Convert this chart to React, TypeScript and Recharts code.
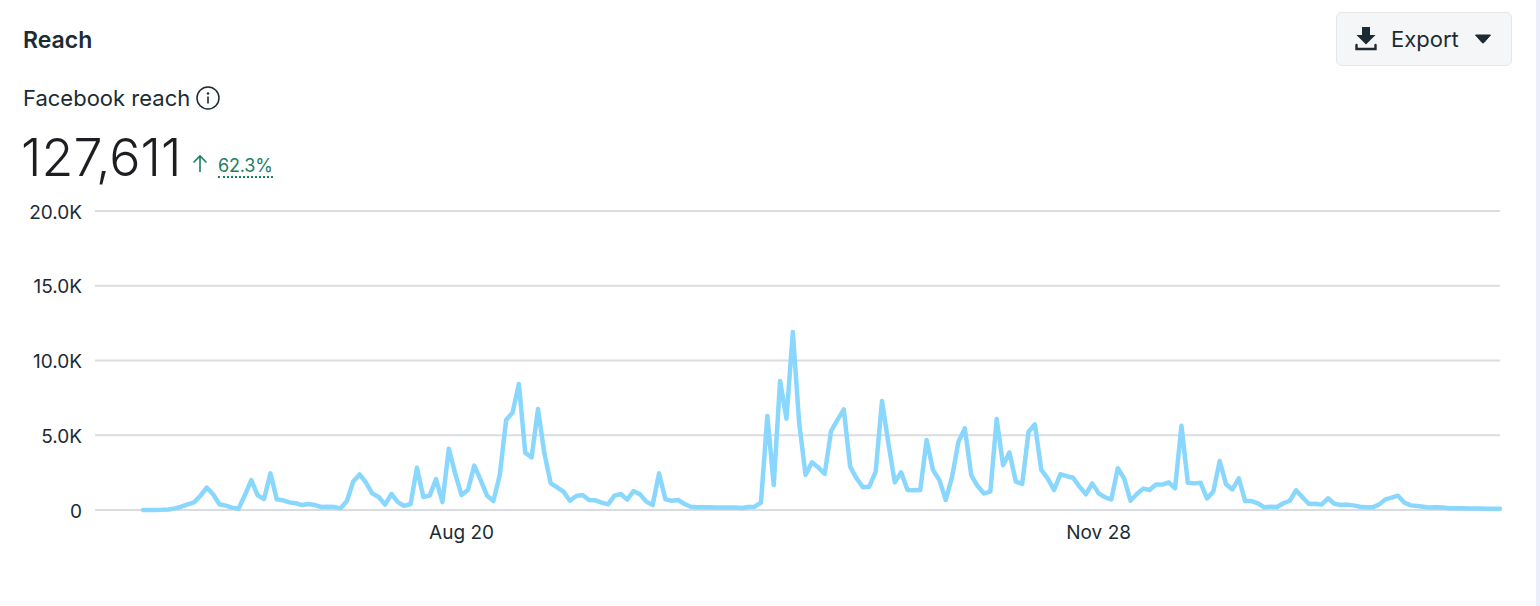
import { LineChart, Line, XAxis, YAxis, CartesianGrid } from 'recharts';

const FONT = 'Inter, "Noto Sans", sans-serif';

// daily reach, starting Jul 1
const reach = [
  0, 0, 0, 10, 30, 110, 220, 380, 510, 940, 1500, 1050, 380, 290, 160, 90, 1000, 2000, 980, 740,
  2450, 710, 650, 510, 450, 330, 400, 330, 200, 220, 200, 110, 600, 1900, 2380, 1830, 1100, 870, 360, 1070,
  530, 270, 400, 2830, 870, 960, 2070, 530, 4100, 2450, 1000, 1340, 2970, 2000, 960, 600, 2340, 6020, 6500, 8430,
  3840, 3520, 6760, 3790, 1780, 1520, 1230, 620, 940, 1000, 670, 650, 490, 380, 960, 1070, 690, 1270, 1050, 560,
  330, 2450, 710, 620, 670, 400, 220, 180, 180, 180, 160, 160, 160, 160, 130, 200, 220, 490, 6290, 1670,
  8630, 6110, 11900, 5800, 2340, 3190, 2850, 2410, 5280, 6020, 6730, 2900, 2120, 1520, 1560, 2560, 7290, 4460, 1850, 2520,
  1340, 1320, 1340, 4680, 2680, 2010, 670, 2230, 4570, 5460, 2340, 1600, 1110, 1230, 6090, 2990, 3840, 1900, 1740, 5240,
  5730, 2680, 2120, 1340, 2390, 2270, 2160, 1560, 1050, 1780, 1110, 850, 710, 2790, 2120, 620, 1070, 1430, 1340, 1700,
  1700, 1850, 1450, 5640, 1830, 1780, 1830, 780, 1230, 3280, 1720, 1380, 2120, 600, 600, 450, 180, 220, 200, 450,
  620, 1320, 850, 400, 420, 360, 780, 420, 330, 360, 310, 220, 180, 180, 360, 710, 830, 960, 490, 310,
  270, 220, 160, 180, 160, 110, 110, 110, 100, 100, 100, 90, 90, 80,
];

const yTicks = [0, 5000, 10000, 15000, 20000];
const xTicks = ['Aug 20', 'Nov 28'];

// calendar labels for the daily points
const days = reach.map((_, i) => {
  const d = new Date(2023, 6, 1 + i);
  return d.toLocaleDateString('en-US', { month: 'short', day: 'numeric' });
});

const chartData = days.map((day, i) => ({ day, reach: reach[i] }));

const formatTick = (value: number) => (value === 0 ? '0' : `${(value / 1000).toFixed(1)}K`);

const abs = (left: number, top: number): React.CSSProperties => ({
  position: 'absolute',
  left,
  top,
  whiteSpace: 'nowrap',
  lineHeight: 1,
});

export default function App() {
  return (
    <div style={{ position: 'absolute', left: 0, top: 0, width: 1540, height: 606, background: '#fff', overflow: 'hidden', fontFamily: FONT }}>
      <div style={{ position: 'absolute', left: 0, top: 601, width: 1540, height: 5, background: '#fcfcfe' }} />
      <div style={{ position: 'absolute', right: 0, top: 0, width: 4, height: 606, background: '#eceefa' }} />

      <div style={{ ...abs(23, 29), fontSize: 23, fontWeight: 600, color: '#1c2b33' }}>Reach</div>

      <div style={{ ...abs(23, 87), fontSize: 22, color: '#1c2b33' }}>Facebook reach</div>
      <svg style={{ position: 'absolute', left: 196, top: 86 }} width="24" height="24" viewBox="0 0 24 24">
        <circle cx="12" cy="12" r="11" fill="none" stroke="#1c2b33" strokeWidth="1.5" />
        <circle cx="12" cy="7.5" r="1.2" fill="#1c2b33" />
        <rect x="11.2" y="10.5" width="1.6" height="7" fill="#1c2b33" />
      </svg>

      <div style={{ ...abs(21, 132), fontSize: 52, fontWeight: 300, color: '#1c1e21' }}>127,611</div>
      <svg style={{ position: 'absolute', left: 191, top: 154 }} width="18" height="20" viewBox="0 0 18 20">
        <path d="M9 18 V2 M2.5 8.5 L9 2 L15.5 8.5" fill="none" stroke="#1a8064" strokeWidth="1.6" />
      </svg>
      <div style={{ ...abs(218, 157), fontSize: 18, letterSpacing: -0.2, color: '#1a8064', borderBottom: '2px dotted #1a8064', paddingBottom: 1 }}>62.3%</div>

      <div style={{ position: 'absolute', left: 1336, top: 12, width: 176, height: 54, boxSizing: 'border-box', background: '#f5f6f7', border: '1px solid #e4e6e8', borderRadius: 6 }} />
      <svg style={{ position: 'absolute', left: 1355, top: 26 }} width="22" height="25" viewBox="0 0 22 25">
        <path d="M7 1 H15 V9 H20.5 L11 18.5 L1.5 9 H7 Z" fill="#1c2b33" />
        <path d="M1.5 19 V23 H20.5 V19" fill="none" stroke="#1c2b33" strokeWidth="2.4" strokeLinecap="round" />
      </svg>
      <div style={{ ...abs(1391, 28), fontSize: 22, color: '#1c2b33' }}>Export</div>
      <svg style={{ position: 'absolute', left: 1474, top: 34 }} width="18" height="11" viewBox="0 0 18 11">
        <path d="M1.5 1 H16.5 L10 8.5 Q9 9.5 8 8.5 Z" fill="#1c2b33" stroke="#1c2b33" strokeLinejoin="round" />
      </svg>

      <div style={{ position: 'absolute', left: 0, top: 0 }}>
        <LineChart
          width={1540}
          height={606}
          data={chartData}
          margin={{ top: 211, right: 40, bottom: 53, left: 25 }}
        >
          <CartesianGrid vertical={false} stroke="#dadde0" strokeWidth={2} />
          <XAxis
            dataKey="day"
            scale="point"
            ticks={xTicks}
            interval={0}
            padding={{ left: 48, right: 0 }}
            axisLine={false}
            tickLine={false}
            tickSize={0}
            tickMargin={16}
            height={43}
            tick={{ fontSize: 19, fill: '#1c2b33', fontFamily: FONT }}
          />
          <YAxis
            domain={[0, 20000]}
            ticks={yTicks}
            tickFormatter={formatTick}
            axisLine={false}
            tickLine={false}
            tickSize={0}
            tickMargin={13}
            width={70}
            tick={{ fontSize: 19, dy: 1, fill: '#1c2b33', fontFamily: FONT }}
          />
          <Line
            type="linear"
            dataKey="reach"
            stroke="#8ad7fe"
            strokeWidth={4.5}
            strokeLinejoin="round"
            strokeLinecap="round"
            dot={false}
            isAnimationActive={false}
          />
        </LineChart>
      </div>
    </div>
  );
}
